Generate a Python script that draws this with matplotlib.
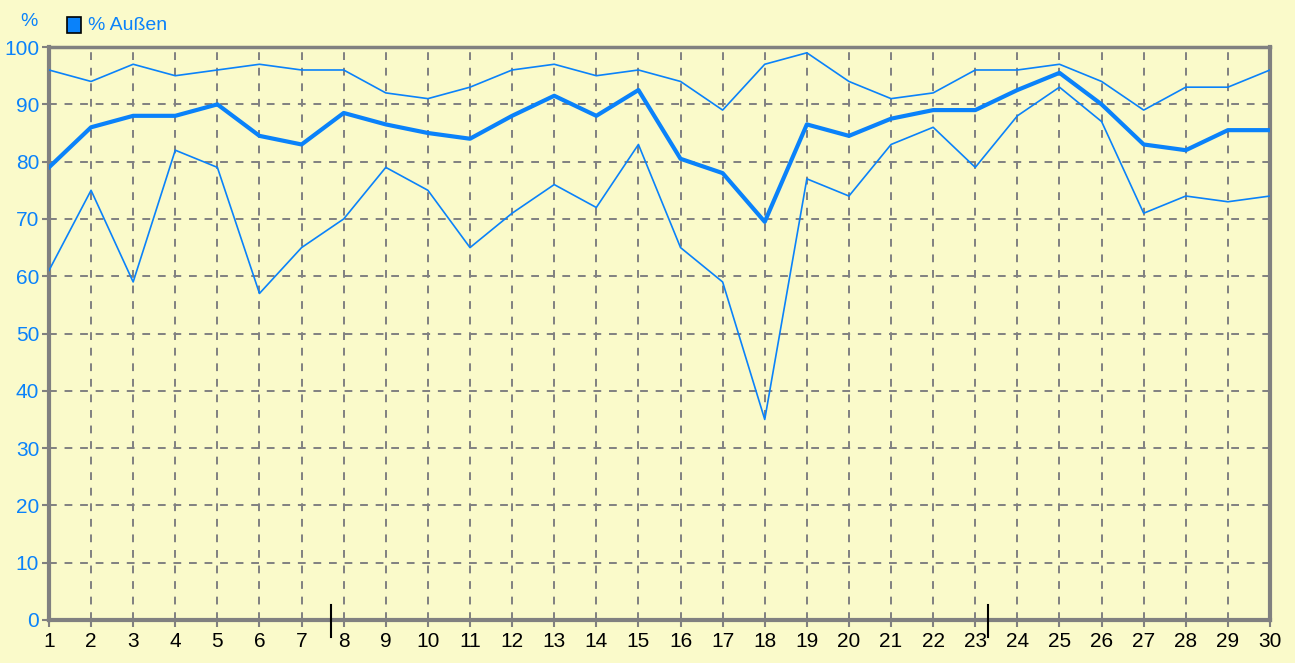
import numpy as np
import matplotlib.pyplot as plt

BG = "#FAFACA"
BLUE = "#0A82FA"
GREY = "#808080"
BLACK = "#000000"

days = list(range(1, 31))
max_vals = [96, 94, 97, 95, 96, 97, 96, 96, 92, 91, 93, 96, 97, 95, 96,
            94, 89, 97, 99, 94, 91, 92, 96, 96, 97, 94, 89, 93, 93, 96]
mean_vals = [79, 86, 88, 88, 90, 84.5, 83, 88.5, 86.5, 85, 84, 88, 91.5, 88, 92.5,
             80.5, 78, 69.5, 86.5, 84.5, 87.5, 89, 89, 92.5, 95.5, 90, 83, 82, 85.5, 85.5]
min_vals = [61, 75, 59, 82, 79, 57, 65, 70, 79, 75, 65, 71, 76, 72, 83,
            65, 59, 35, 77, 74, 83, 86, 79, 88, 93, 87, 71, 74, 73, 74]
y_ticks = list(range(0, 101, 10))
cursor_marks = [7.7, 23.3]

plt.rcParams['font.family'] = ['Liberation Sans', 'DejaVu Sans']

fig = plt.figure(figsize=(12.95, 6.63), dpi=100, facecolor=BG)
ax = fig.add_axes([0.0378, 0.0649, 0.9429, 0.8641])
ax.set_facecolor(BG)

# min / max thin, mean thick
ax.plot(days, max_vals, color=BLUE, lw=1.2, zorder=3)
ax.plot(days, min_vals, color=BLUE, lw=1.2, zorder=3)
ax.plot(days, mean_vals, color=BLUE, lw=3.0, zorder=4)

ax.set_xlim(1, 30)
ax.set_ylim(0, 100)
ax.set_xticks(days)
ax.set_yticks(y_ticks)

ax.grid(True, color=GREY, ls=(0, (4, 4)), lw=1.4)

for sp in ax.spines.values():
    sp.set_color(GREY)
    sp.set_linewidth(3)
ax.spines['top'].set_linewidth(2.5)

ax.tick_params(axis='both', direction='out', length=5, width=1.5, color=GREY, labelsize=15)
ax.tick_params(axis='x', labelcolor=BLACK, pad=4)
ax.tick_params(axis='y', labelcolor=BLUE, pad=2)

# little black cursor marks crossing the x axis
for m in cursor_marks:
    ax.plot([m, m], [-0.03, 0.026], color=BLACK, lw=1.5, transform=ax.get_xaxis_transform(),
            clip_on=False, zorder=6)

# unit label and legend
fig.text(0.0155, 0.968, "%", color=BLUE, fontsize=14, ha='left', va='center')
fig.patches.append(plt.Rectangle((0.0515, 0.95), 0.011, 0.024, transform=fig.transFigure,
                                 facecolor=BLUE, edgecolor=BLACK, lw=1.2))
fig.text(0.068, 0.961, "% Außen", color=BLUE, fontsize=14, ha='left', va='center')

fig.savefig("out.png", dpi=100, facecolor=BG)
